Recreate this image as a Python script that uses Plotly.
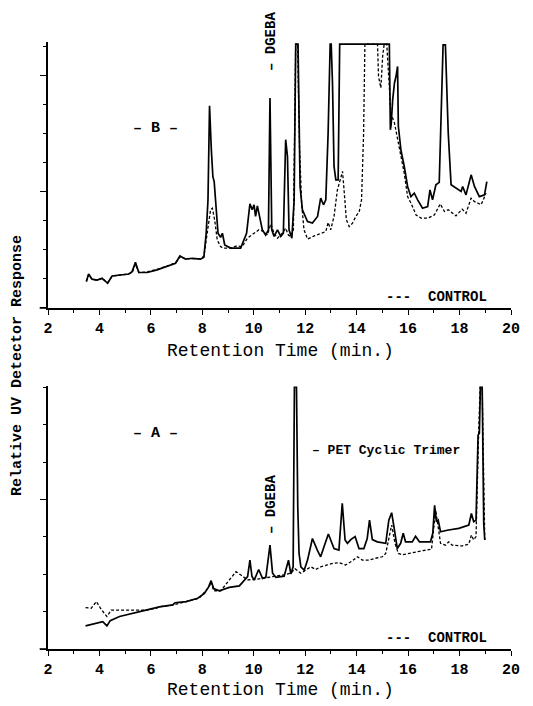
import plotly.graph_objects as go

# ---------------- Panel B (top) ----------------
b_sample_x = [3.49, 3.58, 3.71, 3.91, 4.10, 4.32, 4.49, 4.82, 5.14, 5.27, 5.40, 5.53, 5.86, 6.24, 6.63, 6.96,
              7.13, 7.35, 7.61, 7.93, 8.06, 8.15, 8.22, 8.28, 8.35, 8.41, 8.46, 8.52, 8.61, 8.71, 8.78, 8.87,
              9.10, 9.49, 9.72, 9.85, 9.94, 10.01, 10.07, 10.14, 10.24, 10.33, 10.46, 10.57, 10.63, 10.70,
              10.79, 10.92, 11.05, 11.15, 11.24, 11.31, 11.37, 11.48, 11.57, 11.63, 11.72, 11.80, 11.89,
              12.09, 12.28, 12.48, 12.60, 12.71, 12.80, 12.89, 12.97, 13.01, 13.06, 13.12, 13.19, 13.28,
              13.34, 15.27, 15.31, 15.34, 15.40, 15.47, 15.53, 15.59, 15.62, 15.72, 15.85, 15.98, 16.11,
              16.24, 16.37, 16.56, 16.76, 16.85, 16.95, 17.08, 17.21, 17.30, 17.36, 17.45, 17.56, 17.67,
              17.86, 18.06, 18.12, 18.25, 18.45, 18.58, 18.77, 18.97, 19.06]
b_sample_y = [0.91, 1.17, 0.99, 0.96, 1.02, 0.85, 1.10, 1.14, 1.17, 1.25, 1.57, 1.22, 1.22, 1.31, 1.42, 1.54,
              1.79, 1.68, 1.71, 1.68, 1.75, 2.57, 3.72, 6.96, 5.44, 4.52, 4.35, 3.72, 2.57, 2.43, 2.57, 2.17,
              2.06, 2.06, 2.57, 3.58, 3.38, 3.55, 3.15, 3.51, 3.09, 2.69, 2.51, 2.69, 7.22, 2.69,
              2.46, 2.69, 2.46, 2.57, 5.79, 5.21, 2.69, 2.40, 3.72, 9.08, 9.08, 4.18, 3.38,
              2.97, 2.92, 3.15, 3.78, 3.55, 3.72, 6.02, 9.08, 9.08, 7.74, 4.87, 4.41, 4.41,
              9.08, 9.08, 6.13, 6.30, 7.16, 7.74, 7.97, 8.31, 6.25, 5.44, 4.87, 4.18, 3.83,
              3.95, 3.72, 3.43, 3.49, 4.06, 3.72, 4.24, 4.32, 7.16, 9.05, 9.05, 6.02, 4.24,
              4.12, 4.01, 4.18, 3.89, 4.58, 4.18, 3.83, 3.89, 4.35]

b_control_x = [3.49, 3.58, 3.71, 3.91, 4.10, 4.32, 4.49, 4.82, 5.14, 5.27, 5.40, 5.53, 5.86, 6.24, 6.63, 6.96,
               7.13, 7.35, 7.61, 7.93, 8.06, 8.19, 8.32, 8.39, 8.48, 8.58, 8.71, 8.81, 9.10, 9.36, 9.55, 9.75,
               10.01, 10.20, 10.40, 10.53, 10.66, 10.79, 10.92, 11.11, 11.24, 11.35, 11.44, 11.54, 11.63,
               11.70, 11.78, 11.86, 11.95, 12.09, 12.35, 12.60, 12.80, 12.89, 12.99, 13.12, 13.25, 13.36,
               13.45, 13.51, 13.60, 13.71, 13.84, 13.97, 14.10, 14.19, 14.27, 14.32, 14.81, 14.85, 14.94,
               15.01, 15.07, 15.17, 15.27, 15.33, 15.47, 15.59, 15.72, 15.85, 15.98, 16.11, 16.31, 16.50,
               16.76, 17.02, 17.25, 17.41, 17.56, 17.73, 17.86, 18.10, 18.25, 18.45, 18.58, 18.84, 19.03]
b_control_y = [0.91, 1.15, 0.99, 0.96, 1.02, 0.87, 1.10, 1.14, 1.17, 1.22, 1.50, 1.22, 1.24, 1.33, 1.44, 1.56,
               1.76, 1.70, 1.71, 1.70, 1.78, 2.57, 3.38, 3.43, 3.03, 2.34, 2.11, 2.06, 2.06, 2.14, 2.11, 2.40,
               2.57, 2.69, 2.63, 2.51, 2.89, 2.57, 2.40, 2.57, 2.75, 2.50, 2.46, 2.69, 9.08,
               9.08, 5.50, 3.60, 2.70, 2.37, 2.48, 2.57, 2.63, 2.94, 2.69, 3.15, 4.06, 4.41,
               4.70, 4.06, 3.03, 2.80, 2.92, 3.15, 3.32, 3.72, 6.02, 9.08, 9.08, 7.97, 7.57,
               8.66, 9.08, 9.08, 7.62, 6.70, 6.36, 5.79, 5.21, 4.64, 3.83, 3.61, 3.20, 3.09,
               3.09, 3.20, 3.58, 3.32, 3.38, 3.26, 3.17, 3.40, 3.26, 3.78, 3.66, 3.55, 3.95]

# ---------------- Panel A (bottom) ----------------
a_sample_x = [3.46, 3.88, 4.13, 4.29, 4.42, 4.78, 5.30, 5.81, 6.33, 6.85, 6.94, 7.37, 7.82, 8.08, 8.25, 8.34,
              8.44, 8.66, 9.05, 9.44, 9.76, 9.85, 9.93, 10.02, 10.19, 10.34, 10.47, 10.63, 10.73, 10.86,
              11.18, 11.35, 11.44, 11.53, 11.58, 11.66, 11.71, 11.76, 11.83, 11.96, 12.09, 12.28, 12.47,
              12.60, 12.73, 12.90, 13.12, 13.31, 13.44, 13.55, 13.64, 13.77, 13.94, 14.09, 14.28, 14.41,
              14.50, 14.61, 14.80, 15.13, 15.25, 15.36, 15.45, 15.58, 15.71, 15.81, 15.90, 16.16, 16.29,
              16.44, 16.87, 16.96, 17.03, 17.10, 17.17, 17.26, 17.52, 17.97, 18.36, 18.46, 18.55, 18.64,
              18.72, 18.77, 18.81, 18.88, 18.94, 18.98]
a_sample_y = [0.62, 0.69, 0.73, 0.62, 0.76, 0.87, 0.95, 1.04, 1.13, 1.18, 1.24, 1.27, 1.36, 1.49, 1.67, 1.83,
              1.62, 1.56, 1.65, 1.69, 1.94, 2.38, 1.94, 1.85, 2.13, 1.89, 1.92, 2.78, 2.03, 1.92,
              1.95, 2.38, 2.01, 2.20, 7.02, 7.02, 3.81, 2.56, 2.20, 2.11, 2.38, 2.96, 2.65,
              2.47, 2.74, 3.08, 2.69, 2.65, 3.90, 2.92, 2.83, 2.93, 3.01, 2.69, 2.69, 2.96,
              3.45, 2.93, 2.87, 2.83, 3.45, 3.65, 3.27, 2.69, 2.83, 3.10, 2.87, 2.87, 3.02,
              2.87, 2.87, 3.10, 3.85, 3.41, 3.45, 3.14, 3.18, 3.23, 3.32, 3.63, 3.41, 3.45,
              5.73, 5.77, 7.02, 7.02, 3.36, 2.92]

a_control_x = [3.46, 3.68, 3.88, 4.07, 4.29, 4.46, 4.78, 5.30, 5.81, 6.20, 6.33, 6.85, 7.37, 7.88, 8.27, 8.34,
               8.44, 8.72, 9.05, 9.31, 9.50, 9.76, 10.02, 10.34, 10.66, 11.12, 11.44, 11.60, 11.83, 12.02,
               12.22, 12.41, 12.60, 12.86, 13.06, 13.31, 13.57, 13.83, 14.03, 14.22, 14.48, 14.74, 15.00,
               15.13, 15.23, 15.36, 15.49, 15.62, 15.77, 16.16, 16.55, 16.91, 17.00, 17.07, 17.17, 17.26,
               17.45, 17.58, 17.71, 18.10, 18.36, 18.46, 18.55, 18.64, 18.74, 18.80, 18.88, 18.95, 18.98]
a_control_y = [1.11, 1.09, 1.27, 1.06, 0.87, 1.04, 1.04, 1.03, 1.04, 1.09, 1.13, 1.18, 1.27, 1.36, 1.67, 1.80,
               1.56, 1.56, 1.85, 2.07, 1.98, 1.85, 1.86, 1.89, 1.92, 1.98, 2.03, 2.15, 2.03, 2.11,
               2.20, 2.13, 2.20, 2.25, 2.29, 2.31, 2.25, 2.36, 2.47, 2.38, 2.38, 2.43, 2.47,
               2.56, 2.92, 3.32, 2.83, 2.56, 2.52, 2.58, 2.63, 2.67, 3.27, 3.72, 3.27, 2.83,
               2.78, 2.87, 2.78, 2.76, 2.81, 3.05, 2.92, 3.01, 5.73, 7.02, 7.02, 3.50, 2.92]

x_ticks = [2, 4, 6, 8, 10, 12, 14, 16, 18, 20]

MONO = "Liberation Mono"
fig = go.Figure()

def add_pair(sx, sy, cx, cy, xa, ya):
    fig.add_trace(go.Scatter(x=cx, y=cy, mode="lines", xaxis=xa, yaxis=ya,
                             line=dict(color="black", width=1.3, dash="3px,2px"), showlegend=False))
    fig.add_trace(go.Scatter(x=sx, y=sy, mode="lines", xaxis=xa, yaxis=ya,
                             line=dict(color="black", width=1.7), showlegend=False))

add_pair(b_sample_x, b_sample_y, b_control_x, b_control_y, "x", "y")
add_pair(a_sample_x, a_sample_y, a_control_x, a_control_y, "x2", "y2")

xaxis_common = dict(range=[2, 20], tickvals=x_ticks, ticktext=[str(t) for t in x_ticks],
                    showline=True, linecolor="black", linewidth=1.6, ticks="outside", ticklen=5,
                    tickwidth=1.4, tickcolor="black", showgrid=False, zeroline=False,
                    tickfont=dict(family=MONO, size=15, color="black", weight="bold"),
                    minor=dict(dtick=1, tick0=2, ticks="outside", ticklen=3, tickcolor="black", tickwidth=1.2))
yaxis_common = dict(showline=True, linecolor="black", linewidth=1.6, ticks="outside", ticklen=6,
                    tickwidth=1.4, tickcolor="black", showgrid=False, zeroline=False, showticklabels=False,
                    tick0=0, dtick=4,
                    minor=dict(dtick=1, tick0=0, ticks="outside", ticklen=3, tickcolor="black", tickwidth=1.2))

# page body has an 8px margin, so the figure is 8px smaller and positions are shifted accordingly
fig.update_layout(
    width=525, height=698,
    margin=dict(l=40, r=22, t=34, b=57),
    paper_bgcolor="white", plot_bgcolor="white",
    xaxis=dict(domain=[0, 1], anchor="y", **xaxis_common),
    yaxis=dict(domain=[0.5618, 1.0], range=[0, 9.15], anchor="x", **yaxis_common),
    xaxis2=dict(domain=[0, 1], anchor="y2", **xaxis_common),
    yaxis2=dict(domain=[0, 0.4325], range=[0, 7.03], anchor="x2", **yaxis_common),
)

def px2p(px, py):
    return (px - 48) / 463.0, (649 - py) / 607.0

def note(text, px, py, size=14, bold=True, angle=0):
    xp, yp = px2p(px, py)
    fig.add_annotation(text=text, x=xp, y=yp, xref="paper", yref="paper", showarrow=False,
                       textangle=angle, xanchor="center", yanchor="middle",
                       font=dict(family=MONO, size=size, color="black", weight="bold" if bold else "normal"))

note("– DGEBA", 271, 42, size=14, angle=-90)
note("– B –", 155, 128, size=15)
note("---  CONTROL", 436, 297, size=14)
note("– A –", 155, 433, size=15)
note("– PET Cyclic Trimer", 386, 450, size=13)
note("– DGEBA", 271, 505, size=14, angle=-90)
note("---  CONTROL", 436, 638, size=14)
note("Retention Time (min.)", 280, 351, size=18, bold=False)
note("Retention Time (min.)", 280, 690, size=18, bold=False)
note("Relative UV Detector Response", 17, 366, size=15, angle=-90)

# x-axis line extension left of the y axis
for yp in [0.5618, 0.0]:
    fig.add_shape(type="line", xref="paper", yref="paper", x0=-0.018, x1=0, y0=yp, y1=yp,
                  line=dict(color="black", width=1.6))

fig.write_html("out.html")
